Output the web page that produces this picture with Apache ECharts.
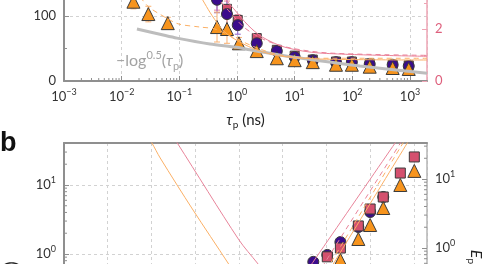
<!DOCTYPE html>
<html>
<head>
<meta charset="utf-8">
<script src="https://cdn.jsdelivr.net/npm/echarts@6/dist/echarts.min.js"></script>
<style>
html, body { margin: 0; padding: 0; background: #fff; }
#chart { width: 485px; height: 264px; }
</style>
</head>
<body>
<div id="chart"></div>
<script>
// ---- panel a : tau_p (ns) vs value ----
var tauTri = [0.016, 0.029, 0.063, 0.45, 0.67, 1.08, 2.2, 4.9, 10, 20.6, 52, 98, 200, 500, 950];
var triA = [122, 103, 89, 83, 80, 58, 46, 35, 32, 29, 25, 25, 22, 20, 18.5];
var triErrA = [11, 12, 9, 23, 22, 9, 3, 0, 0, 0, 0, 0, 0, 0, 0];

var tauDot = [0.45, 0.67, 1.03, 2.2, 4.9, 10, 20.6, 52, 98, 200, 500, 950];
var circA = [125, 103, 86, 58, 46, 37, 32, 29, 29, 26, 25, 23];
var circErrA = [20, 24, 14, 0, 0, 0, 0, 0, 0, 0, 0, 0];
var sqA = [127, 111, 94, 66, 48, 39, 33, 30, 30, 27, 25, 24];
var sqErrA = [18, 12, 8, 4, 0, 0, 0, 0, 0, 0, 0, 0];

// guide line  -log^0.5(tau)
var grayX = [0.0184, 0.046, 0.091, 0.34, 1.0, 1.67, 5.5, 27, 135, 1970];
var grayY = [80, 72, 66, 57, 52, 48, 40, 31, 23, 12];

// model curves
var orDashX = [0.017, 0.0286, 0.052, 0.095, 0.228, 0.414, 0.92, 2.21, 5.54, 27.3, 1970];
var orDashY = [140, 115, 100, 88, 83, 80, 66, 51, 40, 35, 35];
var orSolX = [0.228, 0.367, 0.617, 1.12, 2.21, 5.54, 27.3, 1970];
var orSolY = [132, 101, 75, 60, 47.7, 38.5, 33.8, 32.3];
var pkSolX = [0.547, 0.92, 1.545, 2.7, 6.76, 27.3, 1970];
var pkSolY = [132, 109, 86, 68, 52, 43, 38];
var pkDashX = [0.414, 0.753, 1.37, 3.05, 8.26, 40.7, 1970];
var pkDashY = [132, 106, 81.5, 63, 51, 43, 39.5];

// ---- panel b ----
var bCircX = [5.70, 6.02, 6.32, 6.73, 7.00, 7.30];
var bCirc = [0.77, 0.97, 1.49, 2.46, 4.06, 6.7];
var bSqX = [6.02, 6.32, 6.73, 7.00, 7.30, 7.69, 8.01];
var bSq = [0.91, 1.22, 2.55, 4.49, 6.7, 14.9, 25.5];
var bTriX = [6.32, 6.73, 7.00, 7.30, 7.69, 8.01];
var bTri = [0.82, 1.65, 2.63, 4.64, 10, 16];

var bPkDownX = [2.43, 2.59, 4.00, 4.42, 4.94];
var bPkDownY = [56.8, 40.6, 1.60, 0.74, 0.28];
var bOrDownX = [1.85, 2.01, 2.20, 2.95, 3.75, 4.26];
var bOrDownY = [58.6, 40.6, 24.6, 4.34, 0.74, 0.23];
var bPkUpX = [5.40, 7.73];
var bPkUpY = [0.41, 56.8];
var bPkUpDashX = [5.79, 7.83];
var bPkUpDashY = [0.50, 55.7];
var bOrUpDashX = [5.90, 7.89];
var bOrUpDashY = [0.46, 56.8];
var bOrUpX = [5.97, 7.99];
var bOrUpY = [0.46, 56.8];

// tick label helpers
var minorMult = [2, 3, 4, 5, 6, 7, 8, 9];
var decadesA = [0.001, 0.01, 0.1, 1, 10, 100, 1000];
var decadesB = [0.01, 0.1, 1, 10];

var FONT = 'Lato';
var ORANGE = '#f7941d';
var PURPLE = '#3a0c8c';
var PINK = '#d4506e';
var AXIS = '#8f8f8f';

function zip(xs, ys) {
    var res = [];
    for (var i = 0; i < xs.length; i++) res.push([xs[i], ys[i]]);
    return res;
}

function errData(xs, ys, es) {
    var res = [];
    for (var i = 0; i < xs.length; i++) {
        if (es[i] > 0) res.push([xs[i], ys[i] - es[i], ys[i] + es[i]]);
    }
    return res;
}

function minorTicks(decades, maxV, minV) {
    var res = [];
    decades.forEach(function (d) {
        minorMult.forEach(function (m) {
            var v = d * m;
            if (v < maxV && v > minV) res.push(v);
        });
    });
    return res;
}

function powLabel(v) {
    var e = Math.round(Math.log10(v));
    if (Math.abs(Math.log10(v) - e) > 0.01) return '';
    var s = e < 0 ? '\u2212' + (-e) : '' + e;
    return '{b|10}{s|' + s + '}';
}

var powRich = {
    b: { fontSize: 13, lineHeight: 18, color: '#333', fontFamily: FONT },
    s: { fontSize: 9, lineHeight: 10, verticalAlign: 'top', color: '#333', fontFamily: FONT }
};

function errBar(color) {
    return function (params, api) {
        var p1 = api.coord([api.value(0), api.value(1)]);
        var p2 = api.coord([api.value(0), api.value(2)]);
        var w = 3;
        var st = { stroke: color, lineWidth: 1 };
        return {
            type: 'group', children: [
                { type: 'line', shape: { x1: p1[0], y1: p1[1], x2: p2[0], y2: p2[1] }, style: st },
                { type: 'line', shape: { x1: p1[0] - w, y1: p1[1], x2: p1[0] + w, y2: p1[1] }, style: st },
                { type: 'line', shape: { x1: p2[0] - w, y1: p2[1], x2: p2[0] + w, y2: p2[1] }, style: st }
            ]
        };
    };
}

// short tick marks drawn from a point, dx/dy = direction
function tickMark(dx, dy, color) {
    return function (params, api) {
        var p = api.coord([api.value(0), api.value(1)]);
        return {
            type: 'line',
            shape: { x1: p[0], y1: p[1], x2: p[0] + dx, y2: p[1] + dy },
            style: { stroke: color, lineWidth: 1 }
        };
    };
}

function line(name, xs, ys, color, type, width, xi, yi) {
    return {
        name: name, type: 'line', data: zip(xs, ys),
        xAxisIndex: xi, yAxisIndex: yi,
        symbol: 'none', smooth: 0.3,
        lineStyle: { color: color, width: width, type: type },
        silent: true
    };
}

function scatter(name, xs, ys, symbol, size, color, xi, yi) {
    return {
        name: name, type: 'scatter', data: zip(xs, ys),
        xAxisIndex: xi, yAxisIndex: yi,
        symbol: symbol, symbolSize: size,
        itemStyle: { color: color, borderColor: '#3a3a3a', borderWidth: 1, opacity: 1 }
    };
}

var dashed = { type: [3, 3], color: '#d2d2d2', width: 1 };

var chart = echarts.init(document.getElementById('chart'));

var option = {
    animation: false,
    backgroundColor: '#fff',
    grid: [
        { left: 64, right: 58, top: -49, height: 130, outerBoundsMode: 'none', containLabel: false },
        { left: 64, right: 58, top: 143, height: 180, outerBoundsMode: 'none', containLabel: false }
    ],
    xAxis: [
        {
            gridIndex: 0, type: 'log', logBase: 10, min: 0.001, max: 1970,
            axisLine: { lineStyle: { color: AXIS, width: 2 } },
            axisTick: { inside: true, length: 5, lineStyle: { color: AXIS } },
            axisLabel: { formatter: powLabel, rich: powRich, margin: 7, showMaxLabel: false },
            splitLine: { show: true, lineStyle: dashed },
            name: '{i|\u03c4}{sub|p}{n| (ns)}',
            nameLocation: 'middle', nameGap: 29,
            nameTextStyle: {
                rich: {
                    i: { fontSize: 15, fontStyle: 'italic', lineHeight: 20, color: '#222', fontFamily: FONT },
                    sub: { fontSize: 10, lineHeight: 10, verticalAlign: 'bottom', color: '#222', fontFamily: FONT },
                    n: { fontSize: 15, lineHeight: 20, color: '#222', fontFamily: FONT }
                }
            }
        },
        {
            gridIndex: 1, type: 'value', min: 0, max: 8.3, interval: 1, position: 'top',
            axisLine: { lineStyle: { color: AXIS, width: 2 } },
            axisTick: { show: false },
            axisLabel: { show: false },
            splitLine: { show: true, lineStyle: dashed }
        }
    ],
    yAxis: [
        {
            gridIndex: 0, type: 'value', min: 0, max: 200, interval: 100,
            axisLine: { show: true, lineStyle: { color: AXIS, width: 2 } },
            axisTick: { show: true, inside: true, length: 5, lineStyle: { color: AXIS } },
            minorTick: { show: true, splitNumber: 2, length: 3, lineStyle: { color: AXIS } },
            axisLabel: { color: '#333', fontSize: 13, fontFamily: FONT, margin: 8 },
            splitLine: { show: true, lineStyle: dashed }
        },
        {
            gridIndex: 0, type: 'value', min: 0, max: 5, interval: 2, position: 'right',
            axisLine: { show: true, lineStyle: { color: '#eea4b4', width: 1.5 } },
            axisTick: { show: true, inside: true, length: 5, lineStyle: { color: '#eea4b4' } },
            minorTick: { show: true, splitNumber: 2, length: 3, lineStyle: { color: '#eea4b4' } },
            axisLabel: { color: '#de5f7c', fontSize: 13, fontFamily: FONT, margin: 8 },
            splitLine: { show: false }
        },
        {
            gridIndex: 1, type: 'log', logBase: 10, min: 0.1, max: 40.6,
            axisLine: { show: true, lineStyle: { color: AXIS, width: 2 } },
            axisTick: { show: true, inside: true, length: 5, lineStyle: { color: AXIS } },
            axisLabel: { formatter: powLabel, rich: powRich, margin: 8, showMaxLabel: false },
            splitLine: { show: true, lineStyle: dashed }
        },
        {
            gridIndex: 1, type: 'log', logBase: 10, min: 0.0818, max: 33.3, position: 'right',
            axisLine: { show: true, lineStyle: { color: '#b5b5b5', width: 1.5 } },
            axisTick: { show: true, inside: true, length: 5, lineStyle: { color: AXIS } },
            axisLabel: { formatter: powLabel, rich: powRich, margin: 8, showMaxLabel: false, showMinLabel: false },
            splitLine: { show: false }
        }
    ],
    graphic: [
        {
            type: 'text', left: 0, top: 130, z: 100,
            style: { text: 'b', font: 'bold 27px "Liberation Sans", Arial', fill: '#111' }
        },
        {
            type: 'text', x: 116, y: 50, z: 100,
            style: {
                text: '{m|\u2212log}{s|0.5}{m|(}{i|\u03c4}{sub|p}{m|)}',
                rich: {
                    m: { fontSize: 16, lineHeight: 22, fill: '#a3a3a3', fontFamily: FONT },
                    i: { fontSize: 16, lineHeight: 22, fill: '#a3a3a3', fontFamily: FONT, fontStyle: 'italic' },
                    s: { fontSize: 11, lineHeight: 11, verticalAlign: 'top', fill: '#a3a3a3', fontFamily: FONT },
                    sub: { fontSize: 11, lineHeight: 11, verticalAlign: 'bottom', fill: '#a3a3a3', fontFamily: FONT }
                }
            }
        },
        {
            type: 'text', x: 486, y: 264, rotation: -Math.PI / 2, z: 100,
            style: {
                text: '{e|E}{p|p}',
                rich: {
                    e: { fontSize: 16, lineHeight: 20, fill: '#222', fontFamily: FONT, fontStyle: 'italic' },
                    p: { fontSize: 10, lineHeight: 10, verticalAlign: 'bottom', fill: '#222', fontFamily: FONT }
                },
                align: 'right'
            }
        },
        {
            type: 'text', x: 3, y: 266, rotation: Math.PI / 2, z: 100,
            style: { text: ')', font: '17px Lato', fill: '#222' }
        }
    ],
    series: [
        // panel a
        line('gray', grayX, grayY, '#bdbdbd', 'solid', 3, 0, 0),
        line('orDash', orDashX, orDashY, '#fbb066', [5, 4], 1, 0, 0),
        line('orSol', orSolX, orSolY, '#fbb066', 'solid', 1, 0, 0),
        line('pkSol', pkSolX, pkSolY, '#ea8098', 'solid', 1, 0, 0),
        line('pkDash', pkDashX, pkDashY, '#ea8098', [5, 4], 1, 0, 0),
        {
            type: 'custom', xAxisIndex: 0, yAxisIndex: 0, silent: true,
            data: minorTicks(decadesA, 1970, 0.001).map(function (v) { return [v, 0]; }),
            renderItem: tickMark(0, -3, AXIS)
        },
        {
            type: 'custom', xAxisIndex: 0, yAxisIndex: 0, silent: true,
            data: errData(tauDot, sqA, sqErrA), renderItem: errBar('#e8849a')
        },
        {
            type: 'custom', xAxisIndex: 0, yAxisIndex: 0, silent: true,
            data: errData(tauDot, circA, circErrA), renderItem: errBar('#8a5cc8')
        },
        {
            type: 'custom', xAxisIndex: 0, yAxisIndex: 0, silent: true,
            data: errData(tauTri, triA, triErrA), renderItem: errBar('#f9b070')
        },
        scatter('sqA', tauDot, sqA, 'rect', 9, PINK, 0, 0),
        scatter('circA', tauDot, circA, 'circle', 11, PURPLE, 0, 0),
        scatter('triA', tauTri, triA, 'triangle', 13, ORANGE, 0, 0),

        // panel b
        line('bPkDown', bPkDownX, bPkDownY, '#e8849a', 'solid', 1, 1, 2),
        line('bOrDown', bOrDownX, bOrDownY, '#fbb066', 'solid', 1, 1, 2),
        line('bPkUp', bPkUpX, bPkUpY, '#e8849a', 'solid', 1, 1, 2),
        line('bPkUpDash', bPkUpDashX, bPkUpDashY, '#e8849a', [5, 4], 1, 1, 2),
        line('bOrUpDash', bOrUpDashX, bOrUpDashY, '#fbb066', [5, 4], 1, 1, 2),
        line('bOrUp', bOrUpX, bOrUpY, '#fbb066', 'solid', 1, 1, 2),
        {
            type: 'custom', xAxisIndex: 1, yAxisIndex: 2, silent: true,
            data: minorTicks(decadesB, 40.6, 0.1).map(function (v) { return [0, v]; }),
            renderItem: tickMark(3, 0, AXIS)
        },
        {
            type: 'custom', xAxisIndex: 1, yAxisIndex: 3, silent: true,
            data: minorTicks(decadesB, 33.3, 0.0818).map(function (v) { return [8.3, v]; }),
            renderItem: tickMark(-3, 0, AXIS)
        },
        scatter('bCirc', bCircX, bCirc, 'circle', 11, PURPLE, 1, 2),
        scatter('bSq', bSqX, bSq, 'rect', 10, PINK, 1, 2),
        scatter('bTri', bTriX, bTri, 'triangle', 13, ORANGE, 1, 2)
    ]
};

chart.setOption(option);
</script>
</body>
</html>
